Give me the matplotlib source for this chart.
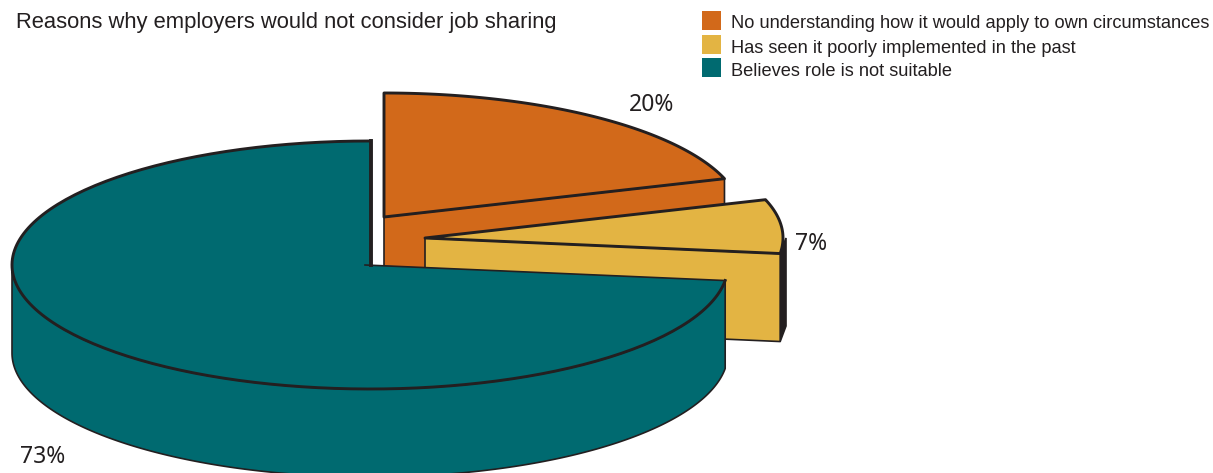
import numpy as np
import matplotlib
matplotlib.use("Agg")
import matplotlib.pyplot as plt
from matplotlib.patches import Polygon, Rectangle

title = "Reasons why employers would not consider job sharing"
names = ["No understanding how it would apply to own circumstances",
         "Has seen it poorly implemented in the past",
         "Believes role is not suitable"]
shares = [20, 7, 73]
colors = ["#d2691a", "#e3b443", "#006a70"]
dark = "#231f20"

# pie shape in pixels
rx = 358
ry = 124
depth = 88
centers = [(384, 217), (425, 238), (370, 265)]
label_pos = [(652, 111), (811, 250), (43, 463)]
swatch_y = [21, 45, 68]
legend_y = [28, 53, 76]

fig = plt.figure(figsize=(12.13, 4.73), dpi=100)
ax = fig.add_axes([0, 0, 1, 1])
ax.set_xlim(0, 1213)
ax.set_ylim(473, 0)
ax.axis("off")
plt.rcParams["font.family"] = ["Liberation Sans", "DejaVu Sans"]


def arc(c, a1, a2, dy=0, r=rx):
    a = np.radians(np.linspace(a1, a2, 200))
    return np.column_stack([c[0] + r * np.cos(a), c[1] + dy - ry * np.sin(a)])


# slice angles, clockwise from the top
edges = 90 - np.cumsum([0] + shares) * 3.6
a_o = (edges[0], edges[1])
a_y = (edges[1], edges[2])
a_t = (edges[2], edges[3])
c_o, c_y, c_t = centers
thin = 1.2
thick = 2.1

# orange slice, cut face then top
p = arc(c_o, a_o[1], a_o[1])[0]
ax.add_patch(Polygon([c_o, p, (p[0], p[1] + depth), (c_o[0], c_o[1] + depth)],
                     fc=colors[0], ec=dark, lw=thin, joinstyle="round"))
top = np.vstack([[c_o], arc(c_o, a_o[0], a_o[1])])
ax.add_patch(Polygon(top, fc=colors[0], ec=dark, lw=thick, joinstyle="round"))

# yellow slice, dark outer wall behind the cut face
p = arc(c_y, a_y[1], a_y[1])[0]
q = arc(c_y, 0, 0)[0] + [3, 0]
ax.add_patch(Polygon([p, q, (q[0], q[1] + depth), (p[0], p[1] + depth)],
                     fc=dark, ec=dark, lw=thin))
ax.add_patch(Polygon([c_y, p, (p[0], p[1] + depth), (c_y[0], c_y[1] + depth)],
                     fc=colors[1], ec=dark, lw=thin, joinstyle="round"))
top = np.vstack([[c_y], arc(c_y, a_y[0], a_y[1])])
ax.add_patch(Polygon(top, fc=colors[1], ec=dark, lw=thick, joinstyle="round"))

# teal slice, side wall then top
rim = arc(c_t, -180, a_t[0])
wall = np.vstack([rim, rim[::-1] + [0, depth]])
ax.add_patch(Polygon(wall, fc=colors[2], ec=dark, lw=thin, joinstyle="round"))
top = np.vstack([[c_t], arc(c_t, a_t[1], a_t[0])])
ax.add_patch(Polygon(top, fc=colors[2], ec="none"))
curve = arc(c_t, a_t[1], a_t[0])
ax.plot(curve[:, 0], curve[:, 1], color=dark, lw=thick)
ax.plot([c_t[0] + 1, curve[0, 0] + 1], [c_t[1], curve[0, 1]], color=dark, lw=2.8)
ax.plot([c_t[0] - 5, curve[-1, 0]], [c_t[1], curve[-1, 1]], color=dark, lw=thin)

for s, pos in zip(shares, label_pos):
    ax.text(pos[0], pos[1], f"{s}%", family="Noto Sans", fontsize=16.5,
            color=dark, ha="center", va="baseline")

ax.text(16, 28, title, fontsize=15.85, color=dark, va="baseline")

for name, col, sy, ty in zip(names, colors, swatch_y, legend_y):
    ax.add_patch(Rectangle((702, sy - 10), 19, 19, fc=col, ec="none"))
    ax.text(731, ty, name, fontsize=13.15, color=dark, va="baseline")

fig.savefig("out.png", dpi=100)
